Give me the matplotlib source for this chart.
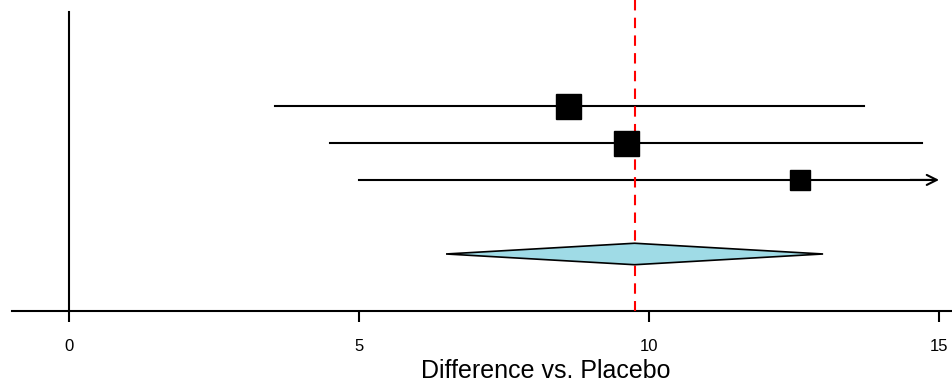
import matplotlib
matplotlib.use("Agg")
import matplotlib.pyplot as plt
from matplotlib.patches import Polygon

plt.rcParams['font.family'] = ['Liberation Sans', 'DejaVu Sans']

# study estimates (difference vs placebo)
est = [8.6, 9.6, 12.6]
lower = [3.55, 4.5, 5.0]
upper = [13.7, 14.7, 15.8]
sizes = [18, 18, 15]
rows = [1, 2, 3]

# pooled estimate
pooled = 9.75
pooled_lo = 6.5
pooled_hi = 13.0
pooled_row = 5

xticks = [0, 5, 10, 15]
xmin, xmax = -0.983, 15.24

fig = plt.figure(figsize=(9.53, 3.82), dpi=100)
ax = fig.add_axes([12 / 953, 71 / 382, 941 / 953, 311 / 382])
ax.set_xlim(xmin, xmax)
ax.set_ylim(6.54, -1.86)

for r, e, lo, hi, s in zip(rows, est, lower, upper, sizes):
    if hi > 15:
        ax.plot([lo, 14.9], [r, r], color='black', lw=1.5, zorder=2)
        ax.annotate('', xy=(15, r), xytext=(14.5, r),
                    arrowprops=dict(arrowstyle='->', color='black', lw=1.5,
                                    mutation_scale=18, shrinkA=0, shrinkB=0))
    else:
        ax.plot([lo, hi], [r, r], color='black', lw=1.5, zorder=2)
    ax.plot(e, r, marker='s', ms=s, color='black', zorder=4)

h = 0.29
diamond = Polygon([[pooled_lo, pooled_row], [pooled, pooled_row - h],
                   [pooled_hi, pooled_row], [pooled, pooled_row + h]],
                  closed=True, facecolor='#9fdbe6', edgecolor='black', lw=1.2, zorder=4)
ax.add_patch(diamond)

ax.plot([0, 0], [-1.54, 6.54], color='black', lw=1.5, zorder=1)
ax.plot([pooled, pooled], [-1.86, 6.54], color='red', lw=1.5,
        dashes=(5, 3.5), zorder=3)

for sp in ['top', 'right', 'left']:
    ax.spines[sp].set_visible(False)
ax.spines['bottom'].set_linewidth(1.5)
ax.set_yticks([])
ax.set_xticks(xticks)
ax.set_xticklabels([str(t) for t in xticks])
ax.tick_params(axis='x', direction='out', length=8, width=1.5, pad=12, labelsize=12)
ax.set_xlabel('Difference vs. Placebo', fontsize=18)
ax.xaxis.set_label_coords(0.567, -0.2154)
ax.xaxis.label.set_verticalalignment('baseline')

fig.savefig('out.png', dpi=100)
